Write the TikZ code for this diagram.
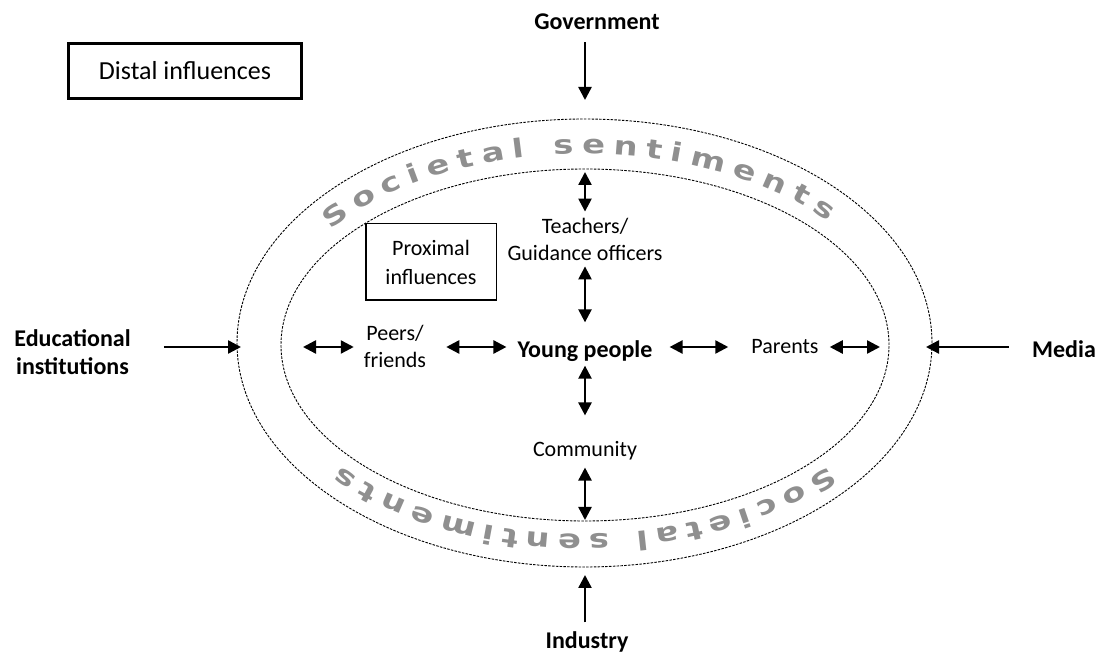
\documentclass[tikz,border=0pt]{standalone}
\usepackage{fontspec}
\setmainfont{Carlito}
\newfontfamily\ringfont[FakeStretch=1.3]{DejaVu Sans Bold}
\usetikzlibrary{arrows.meta,decorations.text}
\definecolor{ringgray}{HTML}{8F8F8F}
\newcommand\ringfmt{\ringfont\fontsize{26}{26}\selectfont\color{ringgray}}
\begin{document}
\begin{tikzpicture}[x=1pt,y=1pt,
  lbl/.style={inner sep=0pt, align=center, font=\fontsize{22}{27}\selectfont},
  blbl/.style={inner sep=0pt, align=center, font=\fontsize{24}{28}\selectfont\bfseries},
  sarrow/.style={line width=2.4pt, -{Triangle[length=13pt,width=13pt]}},
  darrow/.style={line width=2.4pt, {Triangle[length=13pt,width=13pt]}-{Triangle[length=13pt,width=13pt]}},
  ring/.style={line width=0.9pt, dash pattern=on 2.5pt off 1.3pt},
  box/.style={draw, inner sep=0pt, align=center},
]
\useasboundingbox (0,0) rectangle (1103,656);

% ellipses
\draw[ring] (584.5,313) ellipse [x radius=347.5, y radius=224];
\draw[ring] (585,311) ellipse [x radius=304, y radius=176];

\coordinate (outT) at (585,537);
\coordinate (outB) at (585,89);
\coordinate (outL) at (237,309);
\coordinate (outR) at (932,309);
\coordinate (inT) at (585,486);
\coordinate (inB) at (585,135);
\coordinate (inL) at (281,309);
\coordinate (inR) at (889,309);

% ring text
\path[decorate, decoration={text along path, text align=fit to path,
  text={|\ringfmt|Societal sentiments}}]
  (584.5,312) ++(143:318 and 190) arc[start angle=143, end angle=40, x radius=318, y radius=190];
\path[decorate, decoration={text along path, text align=fit to path,
  text={|\ringfmt|Societal sentiments}}]
  (584.5,312) ++(-40:318 and 190) arc[start angle=-40, end angle=-140, x radius=318, y radius=190];

% nodes
\node[blbl] (gov) at (597,634) {Government};
\node[box, line width=3pt, minimum width=233pt, minimum height=55pt,
  font=\fontsize{26}{30}\selectfont] (distal) at (185,585) {Distal influences};
\node[box, line width=1.5pt, minimum width=130.5pt, minimum height=76.5pt,
  font=\fontsize{22}{29}\selectfont] (prox) at (431,394) {Proximal\\influences};
\node[lbl] (teach) at (585,417) {Teachers/\\Guidance officers};
\node[blbl] (yp) at (585,305) {Young people};
\node[lbl] (comm) at (585,205) {Community};
\node[blbl] (ind) at (587,14) {Industry};
\node[lbl] (peers) at (395,310) {Peers/\\friends};
\node[lbl] (par) at (785,309) {Parents};
\node[blbl] (edu) at (72.5,304) {Educational\\institutions};
\node[blbl] (media) at (1064,307) {Media};

% vertical connectors
\draw[sarrow, shorten <=12pt, shorten >=19pt] (gov.south -| outT) -- (outT);
\draw[darrow, shorten <=2pt, shorten >=6pt] (inT) -- (teach.north);
\draw[darrow, shorten <=6pt, shorten >=18pt] (teach.south) -- (yp.north);
\draw[darrow, shorten <=4pt, shorten >=26pt] (yp.south) -- (comm.north);
\draw[darrow, shorten <=7pt, shorten >=1pt] (comm.south) -- (inB);
\draw[sarrow, shorten <=9pt, shorten >=8pt] (ind.north -| outB) -- (outB);

% horizontal connectors
\draw[sarrow, shorten <=33pt, shorten >=-4pt] (edu.east |- outL) -- (outL);
\draw[darrow, shorten <=22pt, shorten >=10pt] (inL) -- (peers.west |- inL);
\draw[darrow, shorten <=20pt, shorten >=11pt] (peers.east |- inL) -- (yp.west |- inL);
\draw[darrow, shorten <=17pt, shorten >=23pt] (yp.east |- inL) -- (par.west |- inL);
\draw[darrow, shorten <=11pt, shorten >=9pt] (par.east |- inL) -- (inR);
\draw[sarrow, shorten <=23pt, shorten >=-6pt] (media.west |- outR) -- (outR);
\end{tikzpicture}
\end{document}
